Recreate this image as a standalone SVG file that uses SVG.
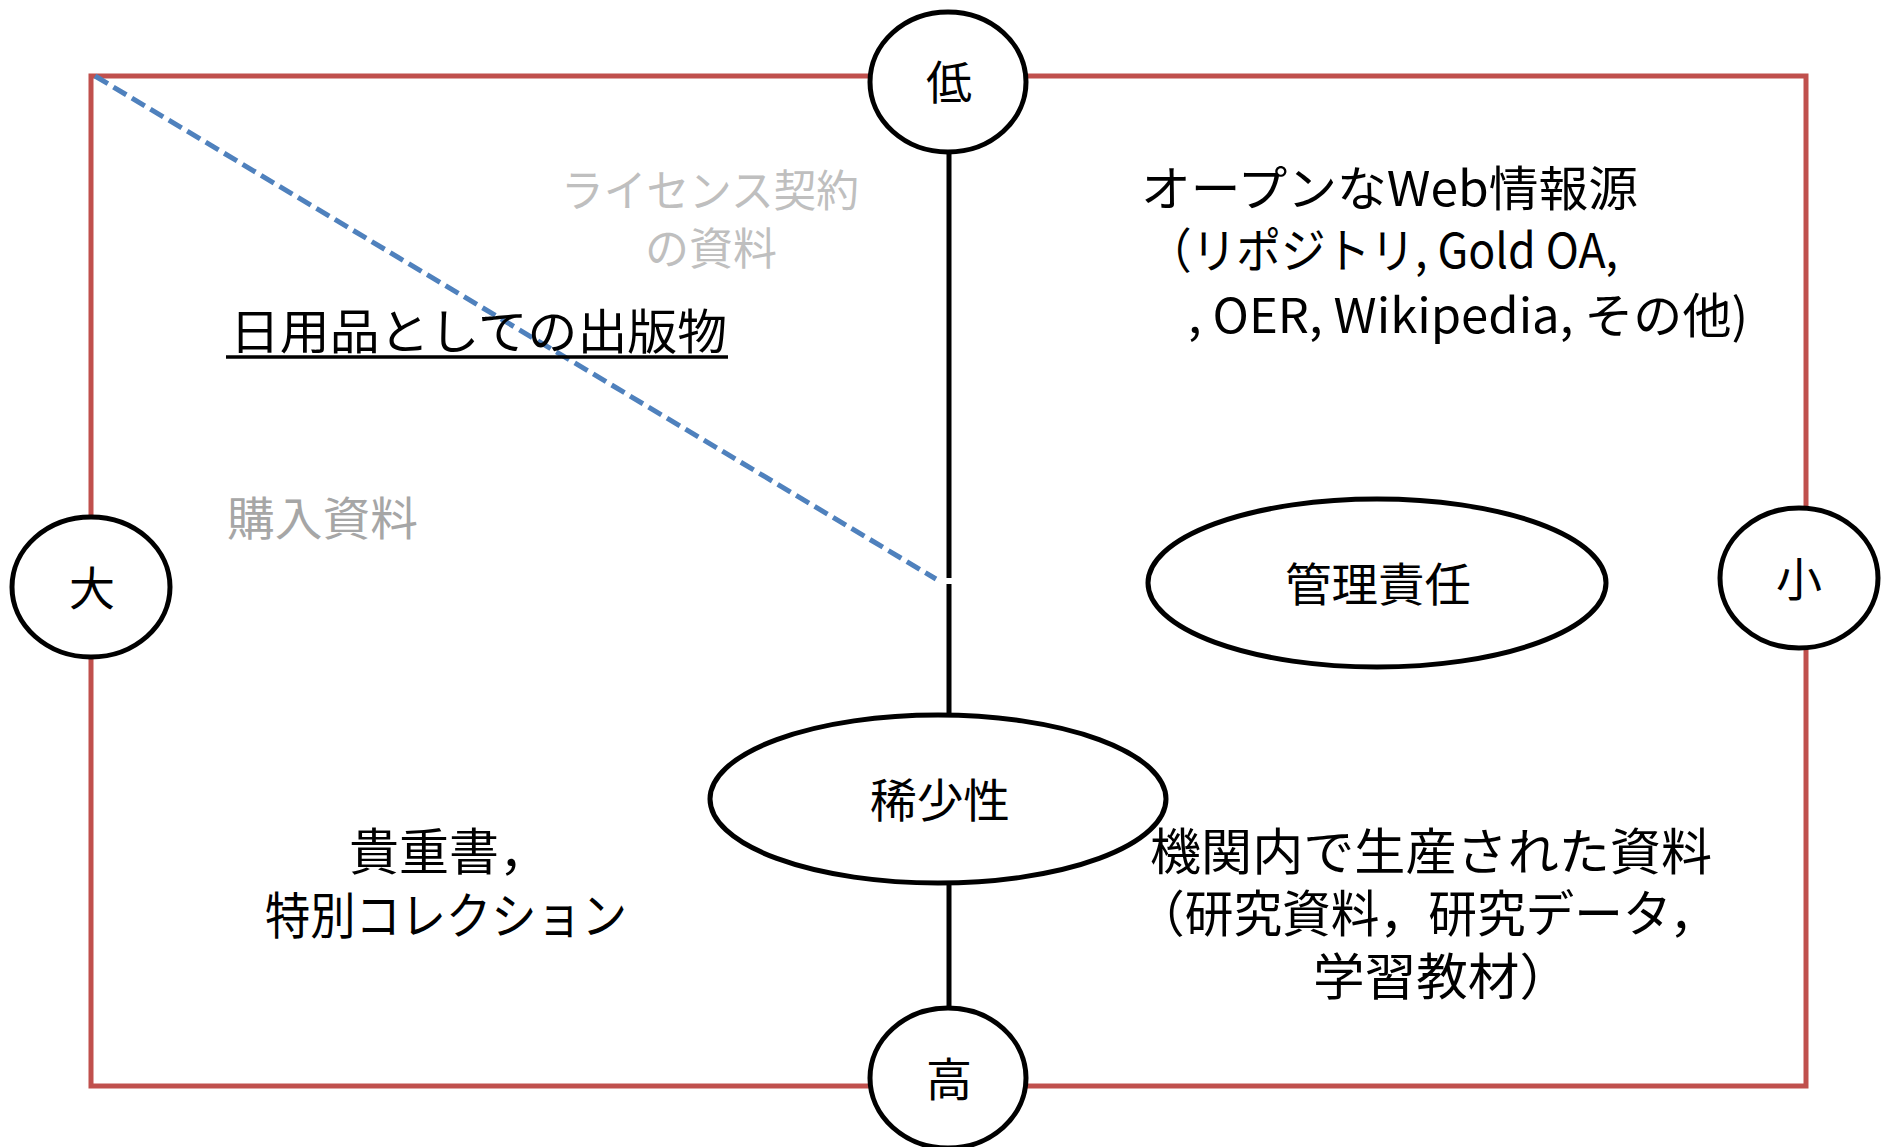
<svg xmlns="http://www.w3.org/2000/svg" width="1883" height="1147" viewBox="0 0 1883 1147">
  <style>
    text { font-family: "Noto Sans CJK JP", "Noto Sans", sans-serif; fill: #000; }
    .node { fill: #fff; stroke: #000; stroke-width: 5; }
    .frame { fill: none; stroke: #C0504D; stroke-width: 5; }
    .axis { stroke: #000; stroke-width: 5; fill: none; }
    .dash { stroke: #4F81BD; stroke-width: 5; stroke-dasharray: 15 6.5; fill: none; }
    .lbl { font-size: 46px; text-anchor: middle; }
    .big { font-size: 48px; }
    .mid { font-size: 50px; }
    .gray1 { fill: #BFBFBF; font-size: 44px; }
    .gray2 { fill: #A6A6A6; font-size: 46px; }
  </style>

  <g id="frame">
    <rect class="frame" x="91" y="76" width="1715" height="1010"/>
  </g>

  <g id="connectors">
    <line class="dash" x1="95" y1="76" x2="936" y2="579"/>
    <line class="axis" x1="949" y1="152" x2="949" y2="578"/>
    <line class="axis" x1="949" y1="584" x2="949" y2="716"/>
    <line class="axis" x1="949" y1="882" x2="949" y2="1009"/>
  </g>

  <g id="node-low">
    <ellipse class="node" cx="948" cy="82" rx="78" ry="70"/>
    <text class="lbl" x="949" y="99">低</text>
  </g>
  <g id="node-high">
    <ellipse class="node" cx="948" cy="1078" rx="78" ry="70"/>
    <text class="lbl" x="949" y="1096">高</text>
  </g>
  <g id="node-large">
    <ellipse class="node" cx="91" cy="587" rx="79" ry="70"/>
    <text class="lbl" x="92" y="605">大</text>
  </g>
  <g id="node-small">
    <ellipse class="node" cx="1799" cy="578" rx="79" ry="70"/>
    <text class="lbl" x="1799" y="596">小</text>
  </g>
  <g id="node-responsibility">
    <ellipse class="node" cx="1377" cy="583" rx="229" ry="84"/>
    <text class="lbl" x="1378" y="601" textLength="186" lengthAdjust="spacingAndGlyphs">管理責任</text>
  </g>
  <g id="node-rarity">
    <ellipse class="node" cx="938" cy="799" rx="228" ry="84"/>
    <text class="lbl" x="940" y="817" textLength="140" lengthAdjust="spacingAndGlyphs">稀少性</text>
  </g>

  <g id="label-license">
    <text class="gray1" x="561" y="207" textLength="298" lengthAdjust="spacingAndGlyphs">ライセンス契約</text>
    <text class="gray1" x="711" y="265" text-anchor="middle">の資料</text>
  </g>
  <g id="label-purchase">
    <text class="gray2" x="227" y="535" textLength="191" lengthAdjust="spacingAndGlyphs">購入資料</text>
  </g>
  <g id="label-commodity">
    <text class="big" x="230" y="349" textLength="497" lengthAdjust="spacingAndGlyphs">日用品としての出版物</text>
    <line x1="226" y1="357" x2="728" y2="357" stroke="#000" stroke-width="3.3"/>
  </g>
  <g id="label-open">
    <text class="big" x="1141" y="206" textLength="497" lengthAdjust="spacingAndGlyphs">オープンなWeb情報源</text>
    <text class="big" x="1147" y="268" textLength="471" lengthAdjust="spacingAndGlyphs">（リポジトリ, Gold OA,</text>
    <text class="big" x="1188" y="333" textLength="560" lengthAdjust="spacingAndGlyphs">, OER, Wikipedia, その他)</text>
  </g>
  <g id="label-rare">
    <text class="mid" x="349" y="870">貴重書，</text>
    <text class="mid" x="265" y="934" textLength="362" lengthAdjust="spacingAndGlyphs">特別コレクション</text>
  </g>
  <g id="label-institutional">
    <text class="mid" x="1150" y="870" textLength="562" lengthAdjust="spacingAndGlyphs">機関内で生産された資料</text>
    <text class="mid" x="1136" y="932" textLength="582" lengthAdjust="spacingAndGlyphs">（研究資料，研究データ，</text>
    <text class="mid" x="1313" y="995" textLength="258" lengthAdjust="spacingAndGlyphs">学習教材）</text>
  </g>
</svg>
